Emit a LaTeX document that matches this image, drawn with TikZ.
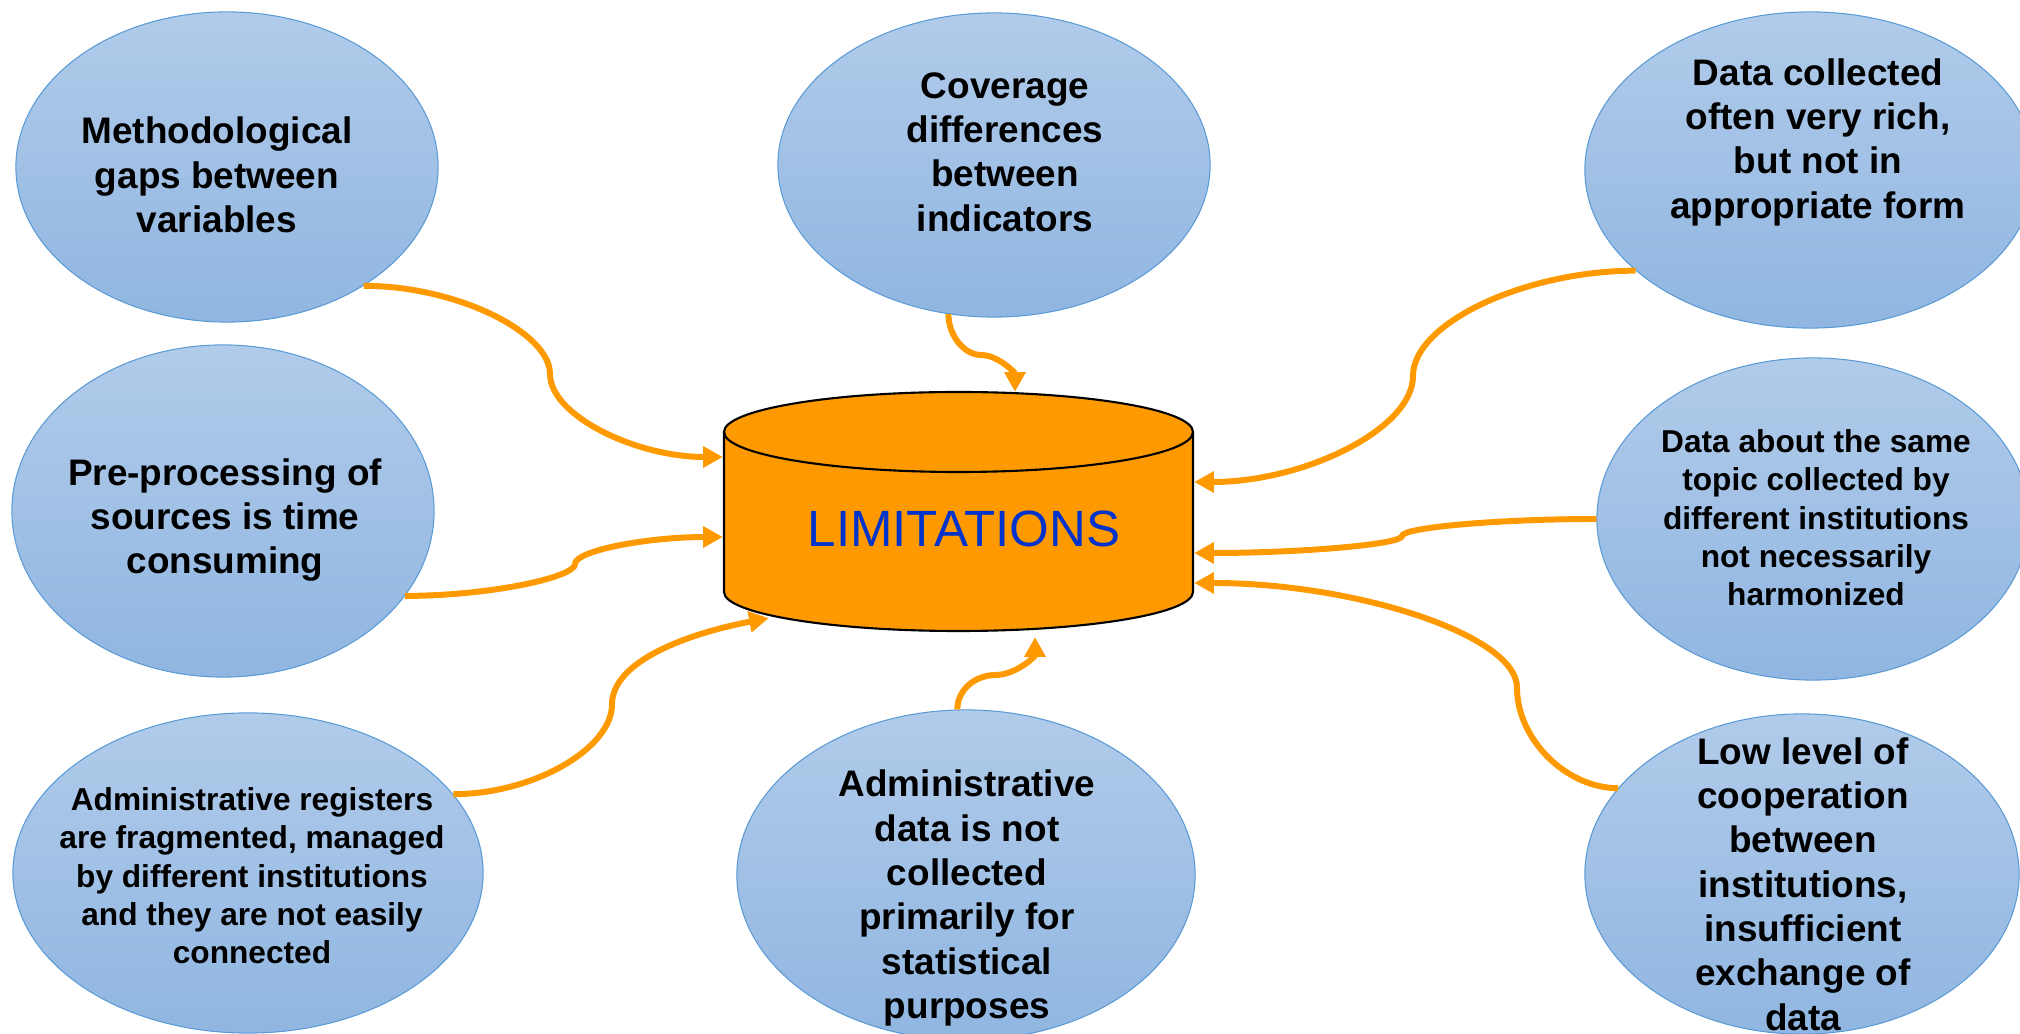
\documentclass[tikz,border=0pt]{standalone}
\usepackage{fontspec}
\setmainfont{Liberation Sans}
\usetikzlibrary{shapes.geometric,arrows.meta,calc}
\definecolor{linkorange}{RGB}{255,153,0}
\definecolor{bubbletop}{RGB}{177,203,234}
\definecolor{bubblebottom}{RGB}{144,182,225}
\definecolor{bubbleedge}{RGB}{91,155,213}
\definecolor{limblue}{RGB}{0,51,204}

\begin{document}
\begin{tikzpicture}[x=0.01cm, y=0.01cm, semithick]
	\tikzstyle{bubble}=[ellipse, draw=bubbleedge, line width=0.3pt, top color=bubbletop,
		bottom color=bubblebottom, inner sep=0pt]
	\tikzstyle{bigtext}=[align=center, font=\fontsize{10.5}{12.6}\selectfont\bfseries]
	\tikzstyle{smalltext}=[align=center, font=\fontsize{9}{10.9}\selectfont\bfseries]
	\tikzstyle{link}=[draw=linkorange, line width=1.7pt, -{Triangle[length=5.6pt,width=5.8pt]}]

	\useasboundingbox (0,0) rectangle (2020,-1034);
	\clip (0,0) rectangle (2020,-1034);

	\node[bubble, minimum width=4.22cm, minimum height=3.10cm] (meth) at (227,-167) {};
	\node[bubble, minimum width=4.32cm, minimum height=3.04cm] (cov) at (994,-165) {};
	\node[bubble, minimum width=4.50cm, minimum height=3.16cm] (rich) at (1810,-170) {};
	\node[bubble, minimum width=4.22cm, minimum height=3.32cm] (pre) at (223,-511) {};
	\node[bubble, minimum width=4.32cm, minimum height=3.22cm] (harm) at (1813,-519) {};
	\node[bubble, minimum width=4.70cm, minimum height=3.20cm] (reg) at (248,-873) {};
	\node[bubble, minimum width=4.58cm, minimum height=3.30cm] (adm) at (966,-875) {};
	\node[bubble, minimum width=4.34cm, minimum height=3.20cm] (coop) at (1802,-874) {};

	\node[bigtext] (methtext) at (217,-175) {Methodological\\gaps between\\variables};
	\node[bigtext] (covtext) at (1005,-152) {Coverage\\differences\\between\\indicators};
	\node[bigtext] (richtext) at (1818,-142) {Data collected\\often very rich,\\but not in\\appropriate form};
	\node[bigtext] (pretext) at (225,-520) {Pre-processing of\\sources is time\\consuming};
	\node[smalltext] (harmtext) at (1816,-518) {Data about the same\\topic collected by\\different institutions\\not necessarily\\harmonized};
	\node[smalltext] (regtext) at (252,-876) {Administrative registers\\are fragmented, managed\\by different institutions\\and they are not easily\\connected};
	\node[bigtext] (admtext) at (967,-898) {Administrative\\data is not\\collected\\primarily for\\statistical\\purposes};
	\node[bigtext] (cooptext) at (1803,-884) {Low level of\\cooperation\\between\\institutions,\\insufficient\\exchange of\\data};

	\fill[linkorange] (724,-432) -- (724,-592) arc[start angle=180, end angle=360, x radius=234.5, y radius=39]
		-- (1193,-432) arc[start angle=0, end angle=180, x radius=234.5, y radius=40] -- cycle;
	\draw[line width=0.6pt] (724,-432) -- (724,-592) arc[start angle=180, end angle=360, x radius=234.5, y radius=39] -- (1193,-432);
	\draw[line width=0.6pt] (958.5,-432) ellipse [x radius=234.5, y radius=40];
	\node[minimum width=4.69cm, minimum height=2.38cm, inner sep=0pt] (lim) at (958.5,-512) {};
	\node[text=limblue, font=\fontsize{14.5}{17}\selectfont] (limtext) at (964,-529) {LIMITATIONS};

	\draw[link] (meth.-41) .. controls +(93,0) and +(0,41.5) .. (550,-374)
		.. controls +(0,-41.5) and +(-87,0) .. ($(lim.west)+(0,55)$);
	\draw[link] (cov.-107.5) .. controls +(0,-21) and +(-17,0) .. (981,-355)
		.. controls +(17,0) and +(0,19) .. ($(lim.north)+(56.5,0)$);
	\draw[link] (rich.-150.5) .. controls +(-110,0) and +(0,53) .. (1413,-376)
		.. controls +(0,-53) and +(110,0) .. ($(lim.east)+(0,30)$);
	\draw[link] (harm.west) .. controls +(-97.5,0) and +(0,8.5) .. (1402,-536)
		.. controls +(0,-8.5) and +(104.5,0) .. ($(lim.east)+(0,-41)$);
	\draw[link] (coop.155.7) .. controls +(-51.5,0) and +(0,-52) .. (1517,-687.5)
		.. controls +(0,52) and +(162,0) .. ($(lim.east)+(0,-71)$);
	\draw[link] (adm.93.6) .. controls +(0,20) and +(-20,0) .. (995.5,-675)
		.. controls +(20,0) and +(0,-19.5) .. ($(lim.south)+(76.5,-5)$);
	\draw[link] (reg.21.7) .. controls +(80,0) and +(0,-44) .. (612,-704.5)
		.. controls +(0,44) and +(-79,-15) .. ($(lim.south west)+(46,14)$);
	\draw[link] (pre.-25) .. controls +(83.5,0) and +(0,-13.5) .. (575,-564)
		.. controls +(0,13.5) and +(-74.5,0) .. ($(lim.west)+(0,-25)$);
\end{tikzpicture}
\end{document}
